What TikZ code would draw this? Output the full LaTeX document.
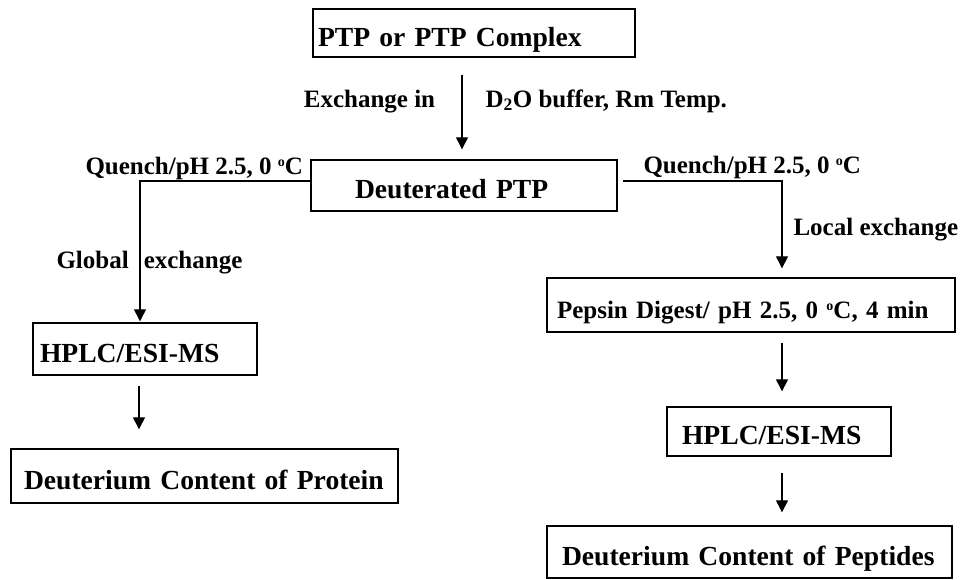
\documentclass[tikz,border=0pt]{standalone}
\usepackage{fontspec}
\setmainfont{Liberation Serif}
\usetikzlibrary{arrows.meta}
\newcommand{\supo}{\raisebox{8pt}{\fontsize{14}{14}\selectfont o}}
\tikzset{every node/.style={font=\bfseries\fontsize{25}{28}\selectfont},
  big/.style={font=\bfseries\fontsize{27.6}{32}\selectfont},
  box/.style={draw, line width=1.4pt, inner ysep=0pt, text height=26pt,
    text depth=0pt, align=left},
  flow/.style={line width=1.3pt, -{Triangle[length=12pt,width=12pt]}}}

\begin{document}
\begin{tikzpicture}[x=1pt, y=-1pt]
      \useasboundingbox (0,0) rectangle (960,579);
      % boxes
      \node[box, big, minimum height=48pt, text width=312pt, inner xsep=5pt]
        (ptp) at (474,33) {\mbox{PTP or PTP Complex}};
      \node[box, big, minimum height=51pt, text width=218pt, inner xsep=44pt]
        (deut) at (464,185.5) {\mbox{Deuterated PTP}};
      \node[box, big, minimum height=52pt, text width=210pt, inner xsep=7pt]
        (hplcL) at (145,349) {\mbox{HPLC/ESI-MS}};
      \node[box, big, minimum height=54pt, text width=361pt, inner xsep=13pt]
        (protein) at (204.5,476) {\mbox{Deuterium Content of Protein}};
      \node[box, minimum height=54pt, text width=388pt, inner xsep=10pt]
        (pepsin) at (751,305) {\mbox{Pepsin Digest/ pH 2.5, 0 \supo C, 4 min}};
      \node[box, big, minimum height=49pt, text width=194pt, inner xsep=15pt]
        (hplcR) at (779,431.5) {\mbox{HPLC/ESI-MS}};
      \node[box, big, minimum height=52pt, text width=375pt, inner xsep=15pt]
        (peptides) at (749.5,552) {\mbox{Deuterium Content of Peptides}};

      % labels
      \node[anchor=base] (exch) at (369.5,107) {Exchange in};
      \node[anchor=base west] (buffer) at (482,107) {D\textsubscript{2}O buffer, Rm Temp.};
      \node[anchor=base west] (quenchL) at (82,174) {Quench/pH 2.5, 0 \supo C};
      \node[anchor=base west] (quenchR) at (640,173) {Quench/pH 2.5, 0 \supo C};
      \node[anchor=base west] (global) at (53,268) {Global\hspace{15pt}exchange};
      \node[anchor=base west] (local) at (790,235) {Local exchange};

      % arrows
      \coordinate (a1) at ([xshift=-12pt]ptp.south);
      \draw[flow, shorten <=17pt, shorten >=10pt] (a1) -- (a1 |- deut.north);
      \draw[flow, shorten >=1pt] ([yshift=4.5pt]deut.west) -| ([xshift=-5pt]hplcL.north);
      \draw[flow, shorten <=5pt, shorten >=9pt] ([yshift=4.5pt]deut.east) -| ([xshift=31pt]pepsin.north);
      \coordinate (a2) at ([xshift=-6pt]hplcL.south);
      \draw[flow, shorten <=10pt, shorten >=19pt] (a2) -- (a2 |- protein.north);
      \draw[flow, shorten <=10pt, shorten >=15pt] ([xshift=31pt]pepsin.south) -- ([xshift=3pt]hplcR.north);
      \coordinate (a3) at ([xshift=3pt]hplcR.south);
      \draw[flow, shorten <=16pt, shorten >=13pt] (a3) -- (a3 |- peptides.north);
    \end{tikzpicture}
\end{document}
